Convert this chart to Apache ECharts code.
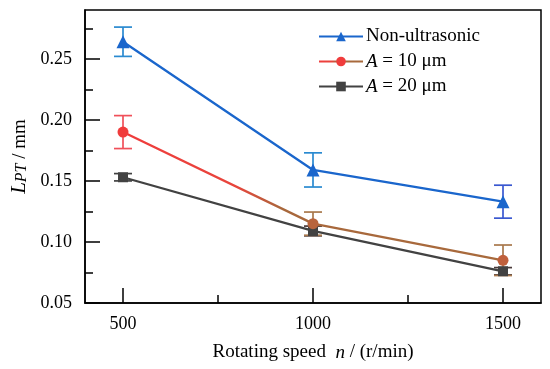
<!DOCTYPE html>
<html><head><meta charset="utf-8">
<script src="https://cdn.jsdelivr.net/npm/echarts@6/dist/echarts.min.js"></script>
<style>html,body{margin:0;padding:0;background:#fff}#c{width:550px;height:369px}</style>
</head><body><div id="c"></div>
<script>
const speeds = [500, 1000, 1500];
const nonUltra = [0.264, 0.159, 0.133];
const nonUltraErr = [0.012, 0.014, 0.0135];
const a10 = [0.190, 0.115, 0.085];
const a10Err = [0.0135, 0.0095, 0.0125];
const a20 = [0.153, 0.109, 0.076];
const a20Err = [0.003, 0.004, 0.003];
const yTickLabels = [0.05, 0.10, 0.15, 0.20, 0.25];
const yMinorTicks = [0.075, 0.125, 0.175, 0.225, 0.275];
const xTickLabels = [500, 1000, 1500];
const xMinorTicks = [750, 1250];
const seriesNames = ['Non-ultrasonic', 'A = 10 μm', 'A = 20 μm'];

const FONT = '"Liberation Serif", "Times New Roman", serif';
const chart = echarts.init(document.getElementById('c'));

function pts(vals) { return speeds.map((s, i) => [s, vals[i]]); }
function errs(vals, e) { return speeds.map((s, i) => [s, vals[i] - e[i], vals[i] + e[i]]); }
function errRender(colors) {
  return function (params, api) {
    const x = api.value(0), lo = api.value(1), hi = api.value(2);
    const pT = api.coord([x, hi]), pB = api.coord([x, lo]);
    const hw = 9, c = colors[params.dataIndex];
    const style = { stroke: c, lineWidth: 1.7 };
    return { type: 'group', children: [
      { type: 'line', shape: { x1: pT[0], y1: pT[1], x2: pB[0], y2: pB[1] }, style },
      { type: 'line', shape: { x1: pT[0] - hw, y1: pT[1], x2: pT[0] + hw, y2: pT[1] }, style },
      { type: 'line', shape: { x1: pB[0] - hw, y1: pB[1], x2: pB[0] + hw, y2: pB[1] }, style }
    ] };
  };
}

const blue = '#1a66cc', red = '#f03c3c', gray = '#424242';
const redLine = new echarts.graphic.LinearGradient(0, 0, 1, 0, [
  { offset: 0, color: '#f03c3c' }, { offset: 0.3, color: '#e8453c' },
  { offset: 0.42, color: '#a8683c' }, { offset: 1, color: '#a86a3c' }]);

const axisCommon = { type: 'value', min: 400, max: 1600 };
const option = {
  animation: false,
  backgroundColor: '#fff',
  grid: { left: 85, top: 10, right: 9, bottom: 66, show: true, borderColor: '#000', borderWidth: 1.5 },
  xAxis: [
    { ...axisCommon, position: 'bottom',
      name: 'Rotating speed  {i|n} / (r/min)', nameLocation: 'middle', nameGap: 40,
      nameTextStyle: { fontFamily: FONT, fontSize: 19, color: '#000',
        rich: { i: { fontFamily: FONT, fontSize: 19, fontStyle: 'italic', color: '#000' } } },
      axisLine: { show: true, lineStyle: { color: '#000', width: 1.5 } },
      axisTick: { show: true, inside: true, length: 15, customValues: xTickLabels, lineStyle: { color: '#000', width: 1.5 } },
      axisLabel: { customValues: xTickLabels, margin: 12, fontFamily: FONT, fontSize: 18, color: '#000',
        formatter: v => String(v) },
      splitLine: { show: false } },
    { ...axisCommon, position: 'bottom',
      axisLine: { show: false },
      axisTick: { show: true, inside: true, length: 8, customValues: xMinorTicks, lineStyle: { color: '#000', width: 1.5 } },
      axisLabel: { show: false }, splitLine: { show: false } }
  ],
  yAxis: [
    { type: 'value', min: 0.05, max: 0.29, position: 'left',
      name: '{L|L}{s|PT}{n| / mm}', nameLocation: 'middle', nameGap: 50,
      nameTextStyle: { fontFamily: FONT, fontSize: 19, color: '#000',
        rich: {
          L: { fontFamily: FONT, fontSize: 21, fontStyle: 'italic', color: '#000', verticalAlign: 'bottom' },
          s: { fontFamily: FONT, fontSize: 16, fontStyle: 'italic', color: '#000', verticalAlign: 'bottom', padding: [9, 0, 0, 0] },
          n: { fontFamily: FONT, fontSize: 19, color: '#000', verticalAlign: 'bottom' } } },
      axisLine: { show: true, lineStyle: { color: '#000', width: 1.5 } },
      axisTick: { show: true, inside: true, length: 15, customValues: yTickLabels, lineStyle: { color: '#000', width: 1.5 } },
      axisLabel: { customValues: yTickLabels, margin: 13, fontFamily: FONT, fontSize: 18, color: '#000',
        formatter: v => v.toFixed(2) },
      splitLine: { show: false } },
    { type: 'value', min: 0.05, max: 0.29, position: 'left',
      axisLine: { show: false },
      axisTick: { show: true, inside: true, length: 8, customValues: yMinorTicks, lineStyle: { color: '#000', width: 1.5 } },
      axisLabel: { show: false }, splitLine: { show: false } }
  ],
  legend: {
    orient: 'vertical', left: 313, top: 22, itemWidth: 44, itemHeight: 12, itemGap: 6,
    data: seriesNames,
    textStyle: { fontFamily: FONT, fontSize: 19, color: '#000', padding: [0, 0, 0, -2],
      rich: { i: { fontFamily: FONT, fontSize: 19, fontStyle: 'italic', color: '#000' } } },
    formatter: n => n.startsWith('A') ? '{i|A}' + n.slice(1) : n
  },
  series: [
    { type: 'custom', name: 'errA20', renderItem: errRender([gray, '#4a3a3a', '#4a3a3a']), data: errs(a20, a20Err), z: 1, silent: true },
    { type: 'custom', name: 'errA10', renderItem: errRender(['#f0505a', '#a8784c', '#a8784c']), data: errs(a10, a10Err), z: 1, silent: true },
    { type: 'custom', name: 'errNU', renderItem: errRender(['#2a8ad0', '#2a8ad0', '#3a58d0']), data: errs(nonUltra, nonUltraErr), z: 1, silent: true },
    { type: 'line', name: seriesNames[2], data: pts(a20), symbol: 'rect', symbolSize: 10,
      color: gray, lineStyle: { color: gray, width: 2.3 }, itemStyle: { color: gray }, z: 3 },
    { type: 'line', name: seriesNames[1], symbol: 'circle', symbolSize: 11,
      data: [
        { value: [speeds[0], a10[0]], itemStyle: { color: red } },
        { value: [speeds[1], a10[1]], itemStyle: { color: '#b8643c' } },
        { value: [speeds[2], a10[2]], itemStyle: { color: '#c0603c' } }],
      color: red, lineStyle: { color: redLine, width: 2.3 }, itemStyle: { color: red }, z: 3 },
    { type: 'line', name: seriesNames[0], data: pts(nonUltra), symbol: 'triangle', symbolSize: 13,
      color: blue, lineStyle: { color: blue, width: 2.3 }, itemStyle: { color: blue }, z: 3 }
  ]
};
chart.setOption(option);
</script></body></html>
